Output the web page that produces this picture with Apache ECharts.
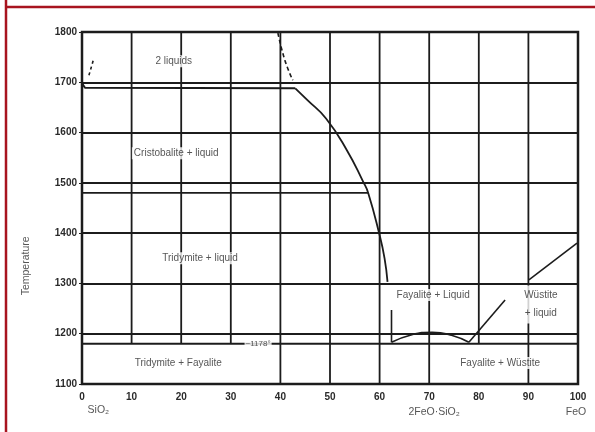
<!DOCTYPE html>
<html>
<head>
<meta charset="utf-8">
<script src="https://cdn.jsdelivr.net/npm/echarts@6/dist/echarts.min.js"></script>
<style>html,body{margin:0;padding:0;background:#fff}#c{width:595px;height:432px}</style>
</head>
<body>
<div id="c"></div>
<script>
// ---- data ----
var xTicks = [0,10,20,30,40,50,60,70,80,90,100];
var yTicks = [1100,1200,1300,1400,1500,1600,1700,1800];
var gridX = [10,20,30,40,50,60,70,80,90];
var gridXLow = [1180,1180,1180,1100,1100,1100,1100,1180,1100];
var monotectic = [[0,1698],[0.6,1689],[43,1688]];
var liquidusSiO2 = [[43,1688],[45.4,1665],[49.2,1628],[53.4,1565],[56.7,1502],[57.7,1480],[59.9,1400],[61,1350],[61.6,1303]];
var twoLiqLeft = [[1.4,1714],[2.4,1748]];
var twoLiqRight = [[39.5,1798],[40.9,1744],[42.5,1704]];
var cristTrid = [[0,1480],[57.7,1480]];
var eutectic = [[0,1180],[100,1180]];
var fayaliteVert = [[62.4,1247],[62.4,1183]];
var fayaliteHump = [[62.4,1183],[66.5,1198],[70.6,1203],[74.5,1197],[78,1183]];
var wustiteLiq1 = [[78,1183],[85.3,1267]];
var wustiteLiq2 = [[90.1,1307],[99.8,1380]];
var regionLabels = [
  [18.5,1742,'2 liquids'],
  [19,1559,'Cristobalite + liquid'],
  [23.8,1350,'Tridymite + liquid'],
  [19.4,1142,'Tridymite + Fayalite'],
  [70.8,1277,'Fayalite + Liquid'],
  [92.5,1258,'Wüstite\n+ liquid'],
  [84.3,1142,'Fayalite + Wüstite'],
  [35.5,1180,'~1178°']
];
var compLabels = [[3.3,1048,'SiO₂'],[71,1044,'2FeO·SiO₂'],[99.6,1044,'FeO']];
var yTitle = [[-11.3,1335,'Temperature']];

// ---- chart ----
var ink = '#1c1c1c';
var chart = echarts.init(document.getElementById('c'), null, {renderer:'canvas'});
function lineSeries(data, opts){
  opts = opts || {};
  return {type:'line', data:data, symbol:'none', smooth:!!opts.smooth, animation:false, z:4,
    lineStyle:{color:ink, width:opts.width||1.8, type:opts.type||'solid'}};
}
var vgrid = gridX.map(function(x,i){
  return lineSeries([[x,1800],[x,gridXLow[i]]],{width:1.8});
});
var regionData = regionLabels.map(function(d){
  var o = {value:d};
  if (d[2].indexOf('1178')>=0) o.label = {fontSize:8, padding:[0,1]};
  if (d[2].indexOf('\n')>=0) o.label = {lineHeight:18};
  return o;
});
var series = vgrid.concat([
  lineSeries(monotectic,{width:2}),
  lineSeries(liquidusSiO2,{smooth:true,width:1.8}),
  lineSeries(twoLiqLeft,{type:[3,3],width:1.6}),
  lineSeries(twoLiqRight,{type:[4,3],width:1.6,smooth:true}),
  lineSeries(cristTrid,{width:1.8}),
  lineSeries(eutectic,{width:1.8}),
  lineSeries(fayaliteVert,{width:1.6}),
  lineSeries(fayaliteHump,{smooth:true,width:1.6}),
  lineSeries(wustiteLiq1,{width:1.6}),
  lineSeries(wustiteLiq2,{width:1.6}),
  {type:'scatter', data:regionData, symbolSize:0, z:6, animation:false,
   label:{show:true, position:'inside', color:'#2a2a2a', fontSize:10, fontFamily:'Liberation Sans',
     backgroundColor:'#fff', padding:[1,2],
     formatter:function(p){return p.value[2];}}},
  {type:'scatter', data:compLabels, symbolSize:0, z:6, clip:false, animation:false,
   label:{show:true, position:'inside', color:'#2a2a2a', fontSize:10.5, fontFamily:'Liberation Sans',
     formatter:function(p){return p.data[2];}}},
  {type:'scatter', data:yTitle, symbolSize:0, z:6, clip:false, animation:false,
   label:{show:true, position:'inside', color:'#2a2a2a', fontSize:10.5, rotate:90, fontFamily:'Liberation Sans',
     formatter:function(p){return p.data[2];}}}
]);

chart.setOption({
  backgroundColor:'#fff',
  animation:false,
  grid:{left:82, right:17, top:32, bottom:48, show:true, borderColor:ink, borderWidth:2.5, backgroundColor:'transparent'},
  xAxis:{type:'value', min:0, max:100, interval:10,
    axisLine:{show:false}, axisTick:{show:false}, splitLine:{show:false},
    axisLabel:{color:'#2a2a2a', fontSize:10, fontWeight:'bold', margin:8, fontFamily:'Liberation Sans',
      formatter:function(v){return String(v);}}},
  yAxis:{type:'value', min:1100, max:1800, interval:100,
    axisLine:{show:false}, axisTick:{show:true, length:3, lineStyle:{color:ink}},
    splitLine:{show:true, lineStyle:{color:ink, width:1.8}},
    axisLabel:{color:'#2a2a2a', fontSize:10, fontWeight:'bold', margin:5, fontFamily:'Liberation Sans',
      formatter:function(v){return String(v);}}},
  graphic:[
    {type:'line', shape:{x1:6, y1:0, x2:6, y2:432}, style:{stroke:'#a8141f', lineWidth:2.5}, z:10},
    {type:'line', shape:{x1:6, y1:7, x2:595, y2:7}, style:{stroke:'#a8141f', lineWidth:2.5}, z:10}
  ],
  series:series
});
</script>
</body>
</html>
